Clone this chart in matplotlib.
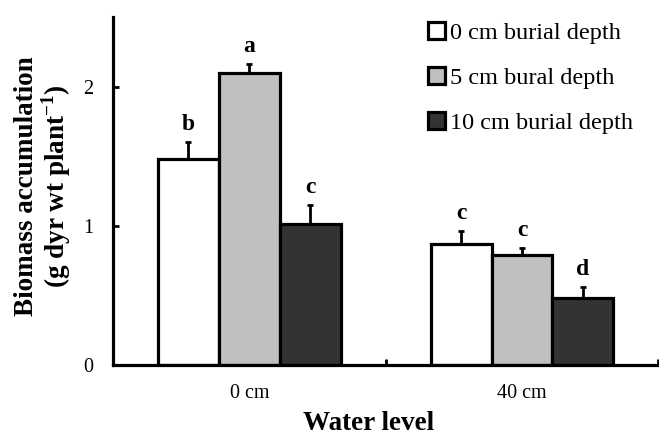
import numpy as np
import matplotlib
matplotlib.use('Agg')
import matplotlib.pyplot as plt
from matplotlib.patches import Patch

plt.rcParams['font.family'] = ['Liberation Serif', 'DejaVu Serif']
plt.rcParams['mathtext.fontset'] = 'custom'
plt.rcParams['mathtext.rm'] = 'Liberation Serif'
plt.rcParams['mathtext.bf'] = 'Liberation Serif:bold'

water_levels = ['0 cm', '40 cm']
depths = ['0 cm burial depth', '5 cm bural depth', '10 cm burial depth']
biomass = [[1.48, 0.87],
           [2.10, 0.79],
           [1.01, 0.48]]
errors = [[0.12, 0.09],
          [0.065, 0.05],
          [0.14, 0.08]]
letters = [['b', 'c'],
           ['a', 'c'],
           ['c', 'd']]
colors = ['white', '#c0c0c0', '#333333']

fig = plt.figure(figsize=(6.59, 4.37), dpi=100)
ax = fig.add_axes([0.1715, 0.1648, 0.8275, 0.7962])

x = np.arange(len(water_levels))
w = 0.2235
for i in range(3):
    pos = x + (i - 1) * w
    ax.bar(pos, biomass[i], w, color=colors[i], edgecolor='black', linewidth=2.3,
           zorder=2)
    ax.errorbar(pos, biomass[i], yerr=[np.zeros(2), errors[i]], fmt='none',
                ecolor='black', elinewidth=2, capsize=2, capthick=2, zorder=3)
    for j in range(2):
        ax.annotate(letters[i][j], (pos[j], biomass[i][j] + errors[i][j]),
                    xytext=(0, 5), textcoords='offset points', ha='center',
                    va='bottom', fontsize=17, fontweight='bold')

ax.set_xlim(-0.5, 1.5)
ax.set_ylim(0, 2.5)
ax.set_yticks([0, 1, 2])
ax.set_xticks(x)
ax.set_xticklabels(water_levels)
ax.set_xticks([0.5, 1.5], minor=True)
ax.tick_params(axis='x', which='major', length=0, pad=14, labelsize=14.5)
ax.tick_params(axis='x', which='minor', direction='in', length=4, width=2)
ax.tick_params(axis='y', direction='in', length=4, width=2, pad=14, labelsize=14.5)
for s in ['top', 'right']:
    ax.spines[s].set_visible(False)
for s in ['left', 'bottom']:
    ax.spines[s].set_linewidth(2.3)

fig.text(0.560, 0.003, 'Water level', ha='center', va='bottom', fontsize=19.5,
         fontweight='bold')
fig.text(0.066, 0.575, 'Biomass accumulation\n(g dyr wt plant$^{\\mathbf{-1}}$)',
         rotation=90, ha='center', va='center', fontsize=19.5, fontweight='bold',
         linespacing=1.0)

handles = [Patch(facecolor=c, edgecolor='black', linewidth=2.3) for c in colors]
ax.legend(handles, depths, loc='upper left', bbox_to_anchor=(0.56, 1.015),
          frameon=False, fontsize=17.5, handlelength=0.7, handleheight=0.7,
          handletextpad=0.2, labelspacing=0.95, borderaxespad=0)

fig.savefig('out.png', dpi=100)
